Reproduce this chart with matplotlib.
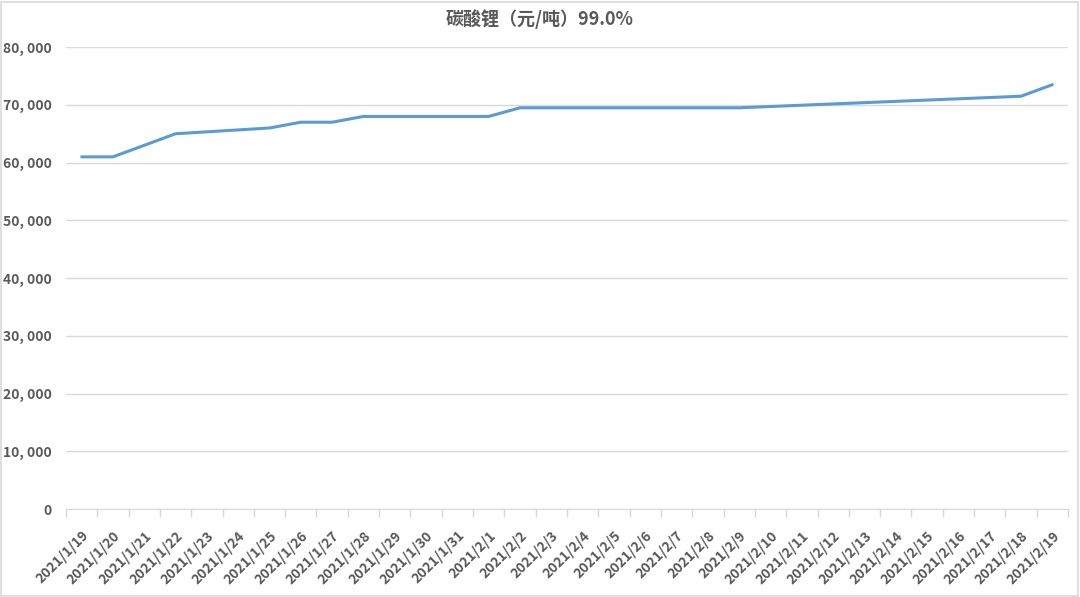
import numpy as np
import matplotlib.pyplot as plt
from matplotlib.patches import Rectangle
from matplotlib.ticker import FuncFormatter

plt.rcParams['font.family'] = ['Noto Sans CJK SC', 'DejaVu Sans']

# categories: every day from 2021/1/19 to 2021/2/19
dates = ['2021/1/%d' % d for d in range(19, 32)] + ['2021/2/%d' % d for d in range(1, 20)]

# observed prices (yuan/ton), only on the days that have a quote
price_dates = ['2021/1/19', '2021/1/20', '2021/1/22', '2021/1/25', '2021/1/26', '2021/1/27',
               '2021/1/28', '2021/2/1', '2021/2/2', '2021/2/9', '2021/2/18', '2021/2/19']
prices = [61000, 61000, 65000, 66000, 67000, 67000,
          68000, 68000, 69500, 69500, 71500, 73500]

title = '碳酸锂（元/吨）99.0%'
txt_color = '#595959'

fig = plt.figure(figsize=(10.8, 5.97), dpi=100)
ax = fig.add_axes([0.0611, 0.1474, 0.9278, 0.7736])

xpos = [dates.index(d) for d in price_dates]
ax.plot(xpos, prices, color='#5B9BD5', lw=2.2, solid_capstyle='round')

ax.set_xlim(-0.5, len(dates) - 0.5)
ax.set_ylim(0, 80000)
ax.set_yticks(np.arange(0, 80001, 10000))
ax.yaxis.set_major_formatter(FuncFormatter(lambda v, p: '{:,}'.format(int(v)).replace(',', ', ')))
ax.grid(axis='y', color='#D9D9D9', lw=1)
ax.set_axisbelow(True)

ax.set_xticks(range(len(dates)))
ax.set_xticklabels(dates, rotation=45, ha='right', rotation_mode='anchor')
ax.set_xticks(np.arange(-0.5, len(dates), 1), minor=True)
ax.tick_params(axis='x', which='major', length=0, pad=14, labelsize=10, labelcolor=txt_color)
ax.tick_params(axis='x', which='minor', length=6, color='#D9D9D9', width=1)
ax.tick_params(axis='y', length=0, pad=10, labelsize=10, labelcolor=txt_color)
for lab in ax.get_xticklabels() + ax.get_yticklabels():
    lab.set_fontweight('bold')

for s in ['top', 'right', 'left']:
    ax.spines[s].set_visible(False)
ax.spines['bottom'].set_color('#D9D9D9')

fig.text(0.5, 0.968, title, ha='center', va='center', fontsize=13,
         color=txt_color, fontweight='bold')

# light frame around the whole chart
fig.patches.append(Rectangle((0.001, 0.002), 0.997, 0.995, transform=fig.transFigure,
                             fill=False, edgecolor='#D9D9D9', lw=1.2))

fig.savefig('out.png', dpi=100)
